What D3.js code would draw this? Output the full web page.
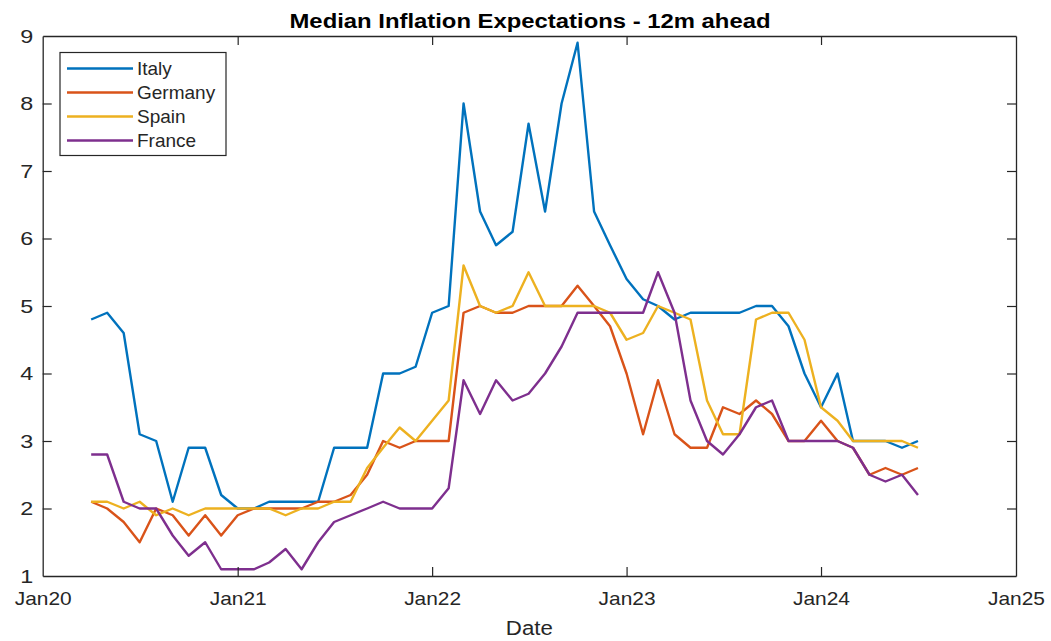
<!DOCTYPE html>
<html><head><meta charset="utf-8">
<script src="https://cdn.jsdelivr.net/npm/d3@7"></script>
<style>
html,body{margin:0;padding:0;background:#fff;}
svg text{font-family:"Liberation Sans",Arial,Helvetica,sans-serif;fill:#262626;}
</style></head><body>
<svg id="c" width="1051" height="641"></svg>
<script>
// ---- data (monthly, Apr 2020 – Jul 2024) ----
const startMonth = "2020-04";
const endMonth = "2024-07";
const seriesNames = ["Italy","Germany","Spain","France"];
const italy = [4.8,4.9,4.6,3.1,3.0,2.1,2.9,2.9,2.2,2.0,2.0,2.1,2.1,2.1,2.1,2.9,2.9,2.9,4.0,4.0,4.1,4.9,5.0,8.0,6.4,5.9,6.1,7.7,6.4,8.0,8.9,6.4,5.9,5.4,5.1,5.0,4.8,4.9,4.9,4.9,4.9,5.0,5.0,4.7,4.0,3.5,4.0,3.0,3.0,3.0,2.9,3.0];
const germany = [2.1,2.0,1.8,1.5,2.0,1.9,1.6,1.9,1.6,1.9,2.0,2.0,2.0,2.0,2.1,2.1,2.2,2.5,3.0,2.9,3.0,3.0,3.0,4.9,5.0,4.9,4.9,5.0,5.0,5.0,5.3,5.0,4.7,4.0,3.1,3.9,3.1,2.9,2.9,3.5,3.4,3.6,3.4,3.0,3.0,3.3,3.0,2.9,2.5,2.6,2.5,2.6];
const spain = [2.1,2.1,2.0,2.1,1.9,2.0,1.9,2.0,2.0,2.0,2.0,2.0,1.9,2.0,2.0,2.1,2.1,2.6,2.9,3.2,3.0,3.3,3.6,5.6,5.0,4.9,5.0,5.5,5.0,5.0,5.0,5.0,4.9,4.5,4.6,5.0,4.9,4.8,3.6,3.1,3.1,4.8,4.9,4.9,4.5,3.5,3.3,3.0,3.0,3.0,3.0,2.9];
const france = [2.8,2.8,2.1,2.0,2.0,1.6,1.3,1.5,1.1,1.1,1.1,1.2,1.4,1.1,1.5,1.8,1.9,2.0,2.1,2.0,2.0,2.0,2.3,3.9,3.4,3.9,3.6,3.7,4.0,4.4,4.9,4.9,4.9,4.9,4.9,5.5,4.9,3.6,3.0,2.8,3.1,3.5,3.6,3.0,3.0,3.0,3.0,2.9,2.5,2.4,2.5,2.2];
const xTickLabels = ["Jan20","Jan21","Jan22","Jan23","Jan24","Jan25"];
const yTickValues = [1,2,3,4,5,6,7,8,9];
const colors = ["#0072BD","#D95319","#EDB120","#7E2F8E"];

const parse = d3.timeParse("%Y-%m");
const dates = d3.timeMonth.range(parse(startMonth), d3.timeMonth.offset(parse(endMonth),1));
const allSeries = [italy, germany, spain, france];

const L = 42.7, R = 1016, T = 36, B = 576;
const svg = d3.select("#c");
const x = d3.scaleTime().domain([new Date(2020,0,1), new Date(2025,0,1)]).range([L, R]);
const y = d3.scaleLinear().domain([1,9]).range([B, T]);
const xTickDates = xTickLabels.map((s,i)=>new Date(2020+i,0,1));

// lines
const line = d3.line().x((d,i)=>x(dates[i])).y(d=>y(d));
allSeries.forEach((s,k)=>{
  svg.append("path").datum(s).attr("d", line)
    .attr("fill","none").attr("stroke",colors[k]).attr("stroke-width",2.4)
    .attr("stroke-linejoin","round");
});

// axes
const tickLen = 9;
const fmt = (d)=>xTickLabels[xTickDates.findIndex(t=>+t===+d)];
const axB = svg.append("g").attr("transform",`translate(0,${B})`)
  .call(d3.axisBottom(x).tickValues(xTickDates).tickFormat(fmt).tickSizeInner(-tickLen).tickSizeOuter(0).tickPadding(15.5));
const axT = svg.append("g").attr("transform",`translate(0,${T})`)
  .call(d3.axisTop(x).tickValues(xTickDates).tickFormat("").tickSizeInner(-tickLen).tickSizeOuter(0));
const axL = svg.append("g").attr("transform",`translate(${L},0)`)
  .call(d3.axisLeft(y).tickValues(yTickValues).tickFormat(d3.format("d")).tickSizeInner(-tickLen).tickSizeOuter(0).tickPadding(9.5));
const axR = svg.append("g").attr("transform",`translate(${R},0)`)
  .call(d3.axisRight(y).tickValues(yTickValues).tickFormat("").tickSizeInner(-tickLen).tickSizeOuter(0));
[axB,axT,axL,axR].forEach(a=>{
  a.selectAll(".domain").attr("stroke","#262626").attr("stroke-width",1.3);
  a.selectAll(".tick line").attr("stroke","#262626").attr("stroke-width",1.2);
  a.selectAll("text").attr("font-size",19).attr("fill","#262626");
});
axB.selectAll(".tick text").attr("textLength",57).attr("lengthAdjust","spacingAndGlyphs");
axL.selectAll(".tick text").attr("textLength",13).attr("lengthAdjust","spacingAndGlyphs");
// hide the ticks that sit on the box corners
axB.selectAll(".tick").filter(d=>+d===+xTickDates[0]||+d===+xTickDates[5]).select("line").remove();
axT.selectAll(".tick").filter(d=>+d===+xTickDates[0]||+d===+xTickDates[5]).select("line").remove();
axL.selectAll(".tick").filter(d=>d===1||d===9).select("line").remove();
axR.selectAll(".tick").filter(d=>d===1||d===9).select("line").remove();

// title and axis label
svg.append("text").attr("x",530).attr("y",27.7).attr("text-anchor","middle")
  .attr("font-size",20).attr("font-weight","bold").style("fill","#000")
  .attr("textLength",481).attr("lengthAdjust","spacingAndGlyphs")
  .text("Median Inflation Expectations - 12m ahead");
svg.append("text").attr("x",(L+R)/2).attr("y",635).attr("text-anchor","middle")
  .attr("font-size",20).attr("textLength",47).attr("lengthAdjust","spacingAndGlyphs").text("Date");

// legend
const lg = svg.append("g");
lg.append("rect").attr("x",60).attr("y",52.5).attr("width",166).attr("height",103)
  .attr("fill","#fff").attr("stroke","#262626").attr("stroke-width",1.2);
seriesNames.forEach((n,k)=>{
  const yy = 68.5 + k*24;
  lg.append("line").attr("x1",67).attr("x2",133).attr("y1",yy).attr("y2",yy)
    .attr("stroke",colors[k]).attr("stroke-width",2.4);
  lg.append("text").attr("x",137).attr("y",yy+6.5).attr("font-size",19).text(n);
});
</script>
</body></html>
